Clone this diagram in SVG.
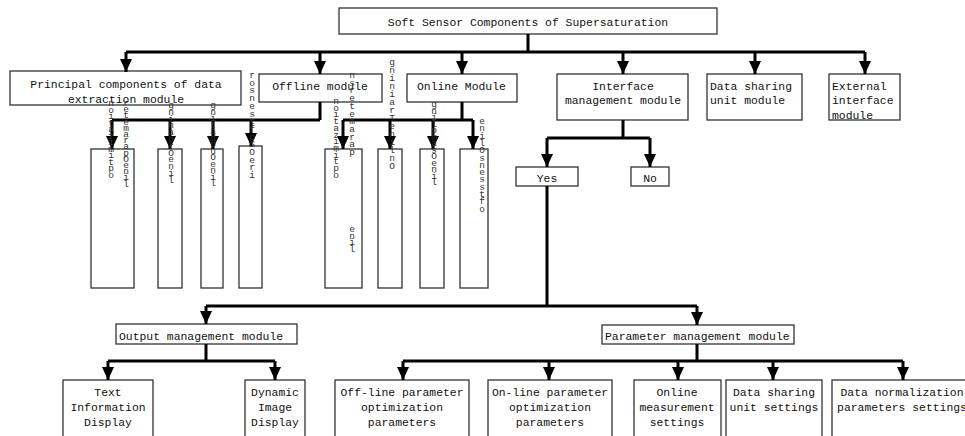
<svg xmlns="http://www.w3.org/2000/svg" width="965" height="436" viewBox="0 0 965 436">
<defs>
<marker id="ah" markerUnits="userSpaceOnUse" markerWidth="13" markerHeight="13" refX="13" refY="6" orient="auto">
<path d="M0,0 L13,6 L0,12 z" fill="#000"/>
</marker>
</defs>
<style>
.b{fill:#fff;stroke:#333;stroke-width:1.3}
.t{font-family:"Liberation Mono",monospace;font-size:11.4px;fill:#111}
.c{text-anchor:middle}
.v{font-family:"Liberation Mono",monospace;font-size:9.5px;fill:#333;text-anchor:middle}
.ln{fill:none;stroke:#000;stroke-width:3}
.ar{fill:none;stroke:#000;stroke-width:3;marker-end:url(#ah)}
</style>
<rect width="965" height="436" fill="#fff"/>

<g id="root"><rect class="b" x="339" y="8" width="378" height="26"/><text class="t c" x="528" y="26">Soft Sensor Components of Supersaturation</text></g>

<g id="principal"><rect class="b" x="10" y="71" width="231" height="34"/><text class="t c" x="126" y="88">Principal components of data</text><text class="t c" x="126" y="103">extraction module</text></g>
<g id="offline"><rect class="b" x="259" y="74" width="123" height="28"/><text class="t c" x="320" y="90">Offline module</text></g>
<g id="online"><rect class="b" x="407" y="74" width="110" height="28"/><text class="t" x="417" y="90">Online Module</text></g>
<g id="interface"><rect class="b" x="557" y="74" width="131" height="46"/><text class="t c" x="623" y="90">Interface</text><text class="t c" x="623" y="104">management module</text></g>
<g id="datasharing"><rect class="b" x="707" y="74" width="95" height="46"/><text class="t" x="710" y="90">Data sharing</text><text class="t" x="710" y="104">unit module</text></g>
<g id="external"><rect class="b" x="829" y="74" width="71" height="46"/><text class="t" x="832" y="90">External</text><text class="t" x="832" y="104">interface</text><text class="t" x="832" y="119">module</text></g>

<g id="sub1"><rect class="b" x="91" y="149" width="43" height="139"/></g>
<g id="sub2"><rect class="b" x="158" y="149" width="24" height="139"/></g>
<g id="sub3"><rect class="b" x="201" y="149" width="22" height="139"/></g>
<g id="sub4"><rect class="b" x="239" y="146" width="23" height="142"/></g>
<g id="sub5"><rect class="b" x="325" y="149" width="37" height="139"/></g>
<g id="sub6"><rect class="b" x="378" y="149" width="24" height="139"/></g>
<g id="sub7"><rect class="b" x="420" y="149" width="24" height="139"/></g>
<g id="sub8"><rect class="b" x="460" y="149" width="28" height="139"/></g>

<g id="yes"><rect class="b" x="516" y="167" width="62" height="19"/><text class="t c" x="547" y="182">Yes</text></g>
<g id="no"><rect class="b" x="631" y="167" width="38" height="19"/><text class="t c" x="650" y="182">No</text></g>

<g id="output"><rect class="b" x="116" y="324" width="181" height="20"/><text class="t" x="119" y="340">Output management module</text></g>
<g id="parameter"><rect class="b" x="602" y="325" width="192" height="19"/><text class="t" x="605" y="340">Parameter management module</text></g>

<g id="textinfo"><rect class="b" x="63" y="380" width="90" height="60"/><text class="t c" x="108" y="396">Text</text><text class="t c" x="108" y="411">Information</text><text class="t c" x="108" y="426">Display</text></g>
<g id="dynimg"><rect class="b" x="245" y="380" width="60" height="60"/><text class="t c" x="275" y="396">Dynamic</text><text class="t c" x="275" y="411">Image</text><text class="t c" x="275" y="426">Display</text></g>
<g id="offparam"><rect class="b" x="335" y="380" width="134" height="60"/><text class="t c" x="402" y="396">Off-line parameter</text><text class="t c" x="402" y="411">optimization</text><text class="t c" x="402" y="426">parameters</text></g>
<g id="onparam"><rect class="b" x="488" y="380" width="124" height="60"/><text class="t c" x="550" y="396">On-line parameter</text><text class="t c" x="550" y="411">optimization</text><text class="t c" x="550" y="426">parameters</text></g>
<g id="onmeas"><rect class="b" x="634" y="380" width="87" height="60"/><text class="t c" x="677" y="396">Online</text><text class="t c" x="677" y="411">measurement</text><text class="t c" x="677" y="426">settings</text></g>
<g id="dsset"><rect class="b" x="726" y="380" width="96" height="60"/><text class="t c" x="774" y="396">Data sharing</text><text class="t c" x="774" y="411">unit settings</text></g>
<g id="normset"><rect class="b" x="832" y="380" width="140" height="60"/><text class="t c" x="902" y="396">Data normalization</text><text class="t c" x="902" y="411">parameters settings</text></g>

<g id="connectors">
<path class="ln" d="M528,34 V52 M126,52 H865"/>
<path class="ar" d="M126,52 V72"/><path class="ar" d="M320,52 V74"/><path class="ar" d="M462,52 V74"/><path class="ar" d="M623,52 V74"/><path class="ar" d="M755,52 V74"/><path class="ar" d="M865,52 V74"/>
<path class="ln" d="M320,102 V120 M112,120 H320"/>
<path class="ar" d="M112,120 V149"/><path class="ar" d="M170,120 V149"/><path class="ar" d="M213,120 V149"/><path class="ar" d="M251,120 V146"/>
<path class="ln" d="M462,102 V120 M343,120 H473"/>
<path class="ar" d="M343,120 V149"/><path class="ar" d="M390,120 V149"/><path class="ar" d="M433,120 V149"/><path class="ar" d="M473,120 V149"/>
<path class="ln" d="M623,120 V138 M547,138 H650"/>
<path class="ar" d="M547,138 V167"/><path class="ar" d="M650,138 V167"/>
<path class="ln" d="M547,186 V306 M206,306 H697"/>
<path class="ar" d="M206,306 V324"/><path class="ar" d="M697,306 V325"/>
<path class="ln" d="M206,344 V361 M108,361 H275"/>
<path class="ar" d="M108,361 V380"/><path class="ar" d="M275,361 V380"/>
<path class="ln" d="M697,344 V361 M403,361 H903"/>
<path class="ar" d="M403,361 V380"/><path class="ar" d="M549,361 V380"/><path class="ar" d="M678,361 V380"/><path class="ar" d="M773,361 V380"/><path class="ar" d="M903,361 V380"/>
</g>

<g id="vertical-labels">
<text class="v" x="111 111 111 111 111 111 111 111 111 111 111 111" y="106 112.5 119 125.5 132 138.5 145 151.5 158 164.5 171 177.5">noitazimitpo</text>
<text class="v" x="126 126 126 126 126 126 126 126 126 126 126 126 126 126" y="106 112.2 118.4 124.6 130.8 137 143.2 149.4 155.6 161.8 168 174.2 180.4 186.6">retemarapOenil</text>
<text class="v" x="171 171 171 171 171 171 171 171 171 171 171 171" y="108 114.8 121.6 128.4 135.2 142 148.8 155.6 162.4 169.2 176 182.8">gninaprOenil</text>
<text class="v" x="213 213 213 213 213 213 213 213 213 213 213 213 213" y="108 114.5 121 127.5 134 140.5 147 153.5 160 166.5 173 179.5 186">gnitadpuOenil</text>
<text class="v" x="252 252 252 252 252 252 252 252 252 252 252 252 252 252" y="78 85.7 93.4 101.1 108.8 116.5 124.2 131.9 139.6 147.3 155 162.7 170.4 178.1">rosnestfoSOeri</text>
<text class="v" x="336 336 336 336 336 336 336 336 336 336 336 336" y="104 110.7 117.4 124.1 130.8 137.5 144.2 150.9 157.6 164.3 171 177.7">noitazimitpo</text>
<text class="v" x="352 352 352 352 352 352 352 352 352 352 352" y="78 85.7 93.4 101.1 108.8 116.5 124.2 131.9 139.6 147.3 155">nsretemarap</text>
<text class="v" x="352 352 352 352" y="232 238.5 245 251.5">enil</text>
<text class="v" x="392 392 392 392 392 392 392 392 392 392 392 392 392 392" y="65 73 81 89 97 105 113 121 129 137 145 153 161 169">gniniarTenilnO</text>
<text class="v" x="434 434 434 434 434 434 434 434 434 434 434 434 434" y="107 113.5 120 126.5 133 139.5 146 152.5 159 165.5 172 178.5 185">gnilpmasOenil</text>
<text class="v" x="482 482 482 482 482 482 482 482 482 482 482 482 482" y="124 131.3 138.6 145.9 153.2 160.5 167.8 175.1 182.4 189.7 197 204.3 211.6">enilOsnesstfo</text>
</g>
</svg>
